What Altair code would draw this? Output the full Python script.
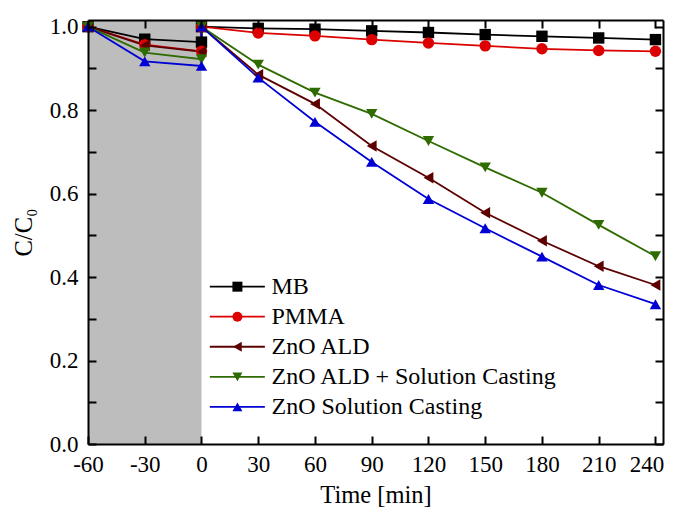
import altair as alt
import pandas as pd

# ---------------- data ----------------
times = [-60, -30, 0, 0, 30, 60, 90, 120, 150, 180, 210, 240]
series_names = ["MB", "PMMA", "ZnO ALD", "ZnO ALD + Solution Casting", "ZnO Solution Casting"]
mb = [1.0, 0.970, 0.963, 1.0, 0.996, 0.994, 0.990, 0.986, 0.981, 0.977, 0.973, 0.969]
pmma = [1.0, 0.957, 0.941, 1.0, 0.985, 0.978, 0.969, 0.961, 0.954, 0.947, 0.943, 0.941]
zno_ald = [1.0, 0.955, 0.940, 1.0, 0.885, 0.815, 0.714, 0.638, 0.554, 0.487, 0.426, 0.381]
zno_ald_sc = [1.0, 0.938, 0.922, 1.0, 0.909, 0.842, 0.791, 0.726, 0.663, 0.602, 0.525, 0.450]
zno_sc = [1.0, 0.917, 0.906, 1.0, 0.878, 0.772, 0.676, 0.587, 0.517, 0.449, 0.381, 0.335]
all_values = [mb, pmma, zno_ald, zno_ald_sc, zno_sc]

colors = ["#000000", "#dc0000", "#5c0000", "#2e6b00", "#0000d4"]
shapes = ["square", "circle", "triangle-left", "triangle-down", "triangle-up"]

x_ticks = [-60, -30, 0, 30, 60, 90, 120, 150, 180, 210, 240]
y_labels = [0.0, 0.2, 0.4, 0.6, 0.8, 1.0]
y_ticks = [0.0, 0.1, 0.2, 0.3, 0.4, 0.5, 0.6, 0.7, 0.8, 0.9, 1.0]
dark_period = [-60, 0]
x_domain = [-60, 244]
y_domain = [0, 1.016]

rows = []
for name, vals in zip(series_names, all_values):
    for i, (t, v) in enumerate(zip(times, vals)):
        rows.append({"series": name, "time": t, "value": v, "idx": i})
df = pd.DataFrame(rows)

shade_df = pd.DataFrame({"x0": [dark_period[0]], "x1": [dark_period[1]],
                         "y0": [y_domain[0]], "y1": [y_domain[1]]})
legend_df = pd.DataFrame({"series": series_names, "row": list(range(len(series_names)))})

# ---------------- styling ----------------
FONT = "Liberation Serif"
xs = alt.Scale(domain=x_domain, nice=False, zero=False)
ys = alt.Scale(domain=y_domain, nice=False, zero=False)
color_scale = alt.Scale(domain=series_names, range=colors)
shape_scale = alt.Scale(domain=series_names, range=shapes)


def frame_axis(orient, values):
    return alt.Axis(orient=orient, values=values, domain=True, domainColor="black",
                    domainWidth=2, ticks=False, labels=False, grid=False,
                    zindex=1, title="")


def tick_axis(orient, values):
    return alt.Axis(orient=orient, values=values, offset=-8, domain=False,
                    ticks=True, tickSize=8, tickWidth=2, tickColor="black",
                    labels=False, grid=False, zindex=1, title="")


# shaded dark-adsorption period, carries bottom/left labelled axes
shade = alt.Chart(shade_df).mark_rect(color="#bdbdbd").encode(
    x=alt.X("x0:Q", scale=xs,
            axis=alt.Axis(orient="bottom", values=x_ticks, labelExpr="'' + datum.value",
                          labelOffset={"condition": {"test": "datum.value == 240", "value": -9},
                                       "value": 0},
                          domain=True, domainColor="black",
                          domainWidth=2, ticks=False, grid=False, zindex=1,
                          labelFont=FONT, labelFontSize=23, labelColor="black",
                          labelPadding=9, labelOverlap=False, labelFlush=False,
                          title="Time [min]", titleFont=FONT, titleFontSize=24.5,
                          titleFontWeight="normal", titleColor="black", titlePadding=7)),
    x2="x1:Q",
    y=alt.Y("y0:Q", scale=ys,
            axis=alt.Axis(orient="left", values=y_labels, format=".1f", domain=True,
                          domainColor="black", domainWidth=2, ticks=False, grid=False,
                          zindex=1, labelFont=FONT, labelFontSize=23, labelColor="black",
                          labelPadding=10, labelOverlap=False, labelFlush=False,
                          title="C/C₀", titleFont=FONT, titleFontSize=24.5,
                          titleFontWeight="normal", titleColor="black", titlePadding=13)),
    y2="y1:Q",
)

# top/right frame lines
frame_tr = alt.Chart(shade_df).mark_rect(opacity=0).encode(
    x=alt.X("x0:Q", scale=xs, axis=frame_axis("top", x_ticks)),
    x2="x1:Q",
    y=alt.Y("y0:Q", scale=ys, axis=frame_axis("right", y_ticks)),
    y2="y1:Q",
)
# inward ticks bottom/left
ticks_bl = alt.Chart(shade_df).mark_rect(opacity=0).encode(
    x=alt.X("x0:Q", scale=xs, axis=tick_axis("bottom", x_ticks)),
    x2="x1:Q",
    y=alt.Y("y0:Q", scale=ys, axis=tick_axis("left", y_ticks)),
    y2="y1:Q",
)
# inward ticks top/right
ticks_tr = alt.Chart(shade_df).mark_rect(opacity=0).encode(
    x=alt.X("x0:Q", scale=xs, axis=tick_axis("top", x_ticks)),
    x2="x1:Q",
    y=alt.Y("y0:Q", scale=ys, axis=tick_axis("right", y_ticks)),
    y2="y1:Q",
)

lines = alt.Chart(df).mark_line(strokeWidth=1.8).encode(
    x=alt.X("time:Q", scale=xs, axis=None),
    y=alt.Y("value:Q", scale=ys, axis=None),
    color=alt.Color("series:N", scale=color_scale, legend=None),
    order="idx:Q",
)
points = alt.Chart(df).mark_point(filled=True, size=130, opacity=1).encode(
    x=alt.X("time:Q", scale=xs, axis=None),
    y=alt.Y("value:Q", scale=ys, axis=None),
    color=alt.Color("series:N", scale=color_scale, legend=None),
    shape=alt.Shape("series:N", scale=shape_scale, legend=None),
)

# manual legend (line + marker + label), in data coordinates
leg_base = alt.Chart(legend_df).transform_calculate(
    ly="0.377 - 0.072 * datum.row", lx0="4.4", lx1="33.5", lm="19", lt="37"
)
leg_lines = leg_base.mark_rule(strokeWidth=1.8).encode(
    x=alt.X("lx0:Q", scale=xs, axis=None), x2="lx1:Q",
    y=alt.Y("ly:Q", scale=ys, axis=None),
    color=alt.Color("series:N", scale=color_scale, legend=None),
)
leg_points = leg_base.mark_point(filled=True, size=100, opacity=1).encode(
    x=alt.X("lm:Q", scale=xs, axis=None),
    y=alt.Y("ly:Q", scale=ys, axis=None),
    color=alt.Color("series:N", scale=color_scale, legend=None),
    shape=alt.Shape("series:N", scale=shape_scale, legend=None),
)
leg_text = leg_base.mark_text(align="left", baseline="middle", font=FONT,
                              fontSize=24, color="black").encode(
    x=alt.X("lt:Q", scale=xs, axis=None),
    y=alt.Y("ly:Q", scale=ys, axis=None),
    text="series:N",
)

chart = alt.layer(
    shade, lines, points, leg_lines, leg_points, leg_text, frame_tr, ticks_bl, ticks_tr
).resolve_axis(
    x="independent", y="independent"
).properties(
    width=575, height=424,
    autosize=alt.AutoSizeParams(type="none"),
    padding={"left": 80, "top": 12, "right": 3, "bottom": 64},
).configure_view(stroke=None).configure(background="white")

chart.save("out.html", embed_options={"renderer": "svg", "actions": False})
